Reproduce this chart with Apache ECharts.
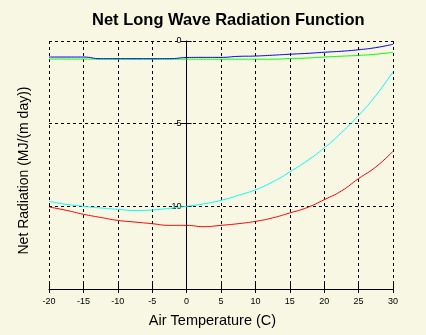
<!DOCTYPE html>
<html><head><meta charset="utf-8">
<script src="https://cdn.jsdelivr.net/npm/echarts@6/dist/echarts.min.js"></script>
<style>html,body{margin:0;padding:0;background:#F8F7E3;}#c{width:426px;height:335px;}</style>
</head><body><div id="c"></div>
<script>
const temps = [-20,-17.5,-15,-12.5,-10,-7.5,-5,-2.5,0,2.5,5,7.5,10,12.5,15,17.5,20,22.5,25,27.5,30];
const blueVals  = [-0.97,-0.97,-0.97,-1.07,-1.07,-1.07,-1.07,-1.07,-1.0,-0.99,-0.99,-0.93,-0.91,-0.86,-0.80,-0.75,-0.68,-0.62,-0.53,-0.40,-0.20];
const greenVals = [-1.09,-1.09,-1.09,-1.10,-1.10,-1.10,-1.10,-1.10,-1.10,-1.10,-1.10,-1.10,-1.10,-1.10,-1.06,-1.03,-0.97,-0.92,-0.87,-0.80,-0.68];
const cyanVals  = [-9.70,-9.88,-10.0,-10.1,-10.18,-10.25,-10.22,-10.12,-10.0,-9.85,-9.64,-9.34,-9.0,-8.53,-7.92,-7.25,-6.47,-5.55,-4.5,-3.3,-1.86];
const redVals   = [-10.04,-10.24,-10.48,-10.67,-10.85,-10.95,-11.05,-11.15,-11.15,-11.23,-11.15,-11.05,-10.91,-10.7,-10.4,-10.08,-9.6,-9.07,-8.32,-7.62,-6.67];
const xTicks = {min:-20, max:30, step:5};
const yTicks = {min:-15, max:0, step:5};
const titleText = 'Net Long Wave Radiation Function';
const xName = 'Air Temperature (C)';
const yName = 'Net Radiation (MJ/(m day))';

const pair = vals => temps.map((t,i)=>[t, vals[i]]);
const font = 'Liberation Sans, Arial, sans-serif';
const gridL = 49, gridR = 33, W = 426;
const plotW = W - gridL - gridR;
// pixel offset of x = 0 from the grid's left edge (derived from the x scale)
const zeroOff = plotW * (0 - xTicks.min) / (xTicks.max - xTicks.min);
const chart = echarts.init(document.getElementById('c'), null, {renderer:'canvas'});
const mk = (name, vals, color) => ({
  name, type:'line', data: pair(vals), smooth: true, showSymbol:false, symbol:'none',
  lineStyle:{color, width:1}, itemStyle:{color}, animation:false, z:3
});
chart.setOption({
  backgroundColor:'#F8F7E3',
  animation:false,
  title:{text:titleText, left:92, top:12, padding:0,
    textStyle:{fontFamily:font, fontWeight:'bold', fontSize:16.5, color:'#000'}},
  grid:{left:gridL, right:gridR, top:41, bottom:46, containLabel:false, outerBoundsMode:'none'},
  xAxis:[{
    type:'value', min:xTicks.min, max:xTicks.max, interval:xTicks.step, position:'bottom',
    name:xName, nameLocation:'middle', nameGap:24,
    nameTextStyle:{fontFamily:font, fontSize:14.5, color:'#000', padding:[0,17,0,0]},
    axisLine:{onZero:false, lineStyle:{color:'#000', width:1}},
    axisTick:{inside:true, length:7, lineStyle:{color:'#000'}},
    axisLabel:{fontFamily:font, fontSize:9, color:'#000', margin:8},
    splitLine:{show:true, lineStyle:{color:'#000', type:[3,3], width:1}}
  },{
    type:'value', min:xTicks.min, max:xTicks.max, interval:xTicks.step, position:'bottom', offset:0,
    axisLine:{show:false, onZero:false}, axisTick:{inside:false, length:4, lineStyle:{color:'#000'}},
    axisLabel:{show:false}, splitLine:{show:false}
  }],
  yAxis:[{
    type:'value', min:yTicks.min, max:yTicks.max, interval:yTicks.step, position:'left',
    name:yName, nameLocation:'middle', nameGap:18,
    nameTextStyle:{fontFamily:font, fontSize:14, color:'#000', padding:[0,11,0,0]},
    axisLine:{onZero:true, lineStyle:{color:'#000', width:1}},
    axisTick:{show:false}, axisLabel:{show:false},
    splitLine:{show:true, lineStyle:{color:'#000', type:[3,3], width:1}}
  },{
    type:'value', min:yTicks.min, max:yTicks.max, interval:yTicks.step, position:'left', offset:-zeroOff,
    axisLine:{show:false, onZero:false}, axisTick:{inside:true, length:5, lineStyle:{color:'#000'}},
    axisLabel:{fontFamily:font, fontSize:9, color:'#000', margin:5, showMinLabel:false},
    splitLine:{show:false}
  },{
    type:'value', min:yTicks.min, max:yTicks.max, interval:yTicks.step, position:'left', offset:-zeroOff,
    axisLine:{show:false, onZero:false}, axisTick:{inside:false, length:6, lineStyle:{color:'#000'}},
    axisLabel:{show:false}, splitLine:{show:false}
  }],
  series:[
    mk('green', greenVals, '#00FF00'),
    mk('blue', blueVals, '#0000FF'),
    mk('cyan', cyanVals, '#00FFFF'),
    mk('red', redVals, '#FF0000')
  ]
});
</script>
</body></html>
